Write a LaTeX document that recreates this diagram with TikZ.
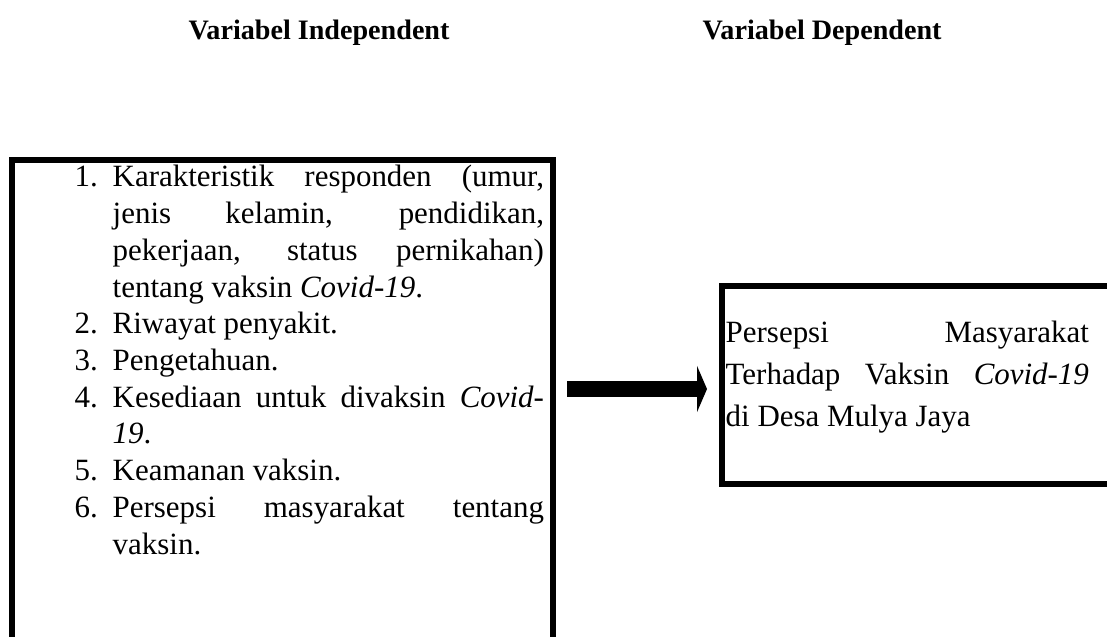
\documentclass[tikz,border=0pt]{standalone}
\usepackage{fontspec}
\setmainfont{Liberation Serif}
\usetikzlibrary{arrows.meta}

\newlength{\lekuk}
\setlength{\lekuk}{0.38cm}
\newcommand{\butir}[2]{\hangindent=\lekuk\hangafter=1\noindent\hbox to\lekuk{#1\hfil}#2\par}

\tikzset{
  judul/.style={font=\fontsize{8}{9.6}\selectfont\bfseries, inner sep=0pt, anchor=base west},
  isian/.style={inner sep=0pt, anchor=base west, align=justify, text width=#1},
  garis/.style={line width=0.06cm}
}

\begin{document}
\begin{tikzpicture}[x=0.01cm,y=-0.01cm]
      \useasboundingbox (0,0) rectangle (1107,637);
      %judul
      \node[judul] (judulbebas) at (188,40) {Variabel Independent};
      \node[judul] (judulterikat) at (702,40) {Variabel Dependent};
      %kotak kiri
      \draw[garis] (12,637) -- (12,160) -- (553,160) -- (553,637);
      \node[isian=4.69cm, font=\fontsize{8.8}{10.44}\selectfont] (faktor) at (74,187) {%
        \butir{1.}{Karakteristik responden (umur,\linebreak jenis kelamin, pendidikan,\linebreak pekerjaan, status pernikahan)\linebreak tentang vaksin \textit{Covid-19}.}%
        \butir{2.}{Riwayat penyakit.}%
        \butir{3.}{Pengetahuan.}%
        \butir{4.}{Kesediaan untuk divaksin \textit{Covid-}\linebreak\textit{19}.}%
        \butir{5.}{Keamanan vaksin.}%
        \butir{6.}{Persepsi masyarakat tentang\linebreak vaksin.}};
      %kotak kanan
      \draw[garis] (1107,286) -- (722,286) -- (722,484) -- (1107,484);
      \node[isian=3.63cm, font=\fontsize{8.8}{11.95}\selectfont] (persepsi) at (725,342)
        {Persepsi Masyarakat\linebreak Terhadap Vaksin \textit{Covid-19}\linebreak di Desa Mulya Jaya};
      %panah
      \coordinate (panahkiri) at (567,389);
      \coordinate (panahkanan) at (707,389);
      \draw[line width=0.16cm,-{Triangle[length=0.1cm,width=0.46cm]}] (panahkiri) -- (panahkanan);
\end{tikzpicture}
\end{document}
